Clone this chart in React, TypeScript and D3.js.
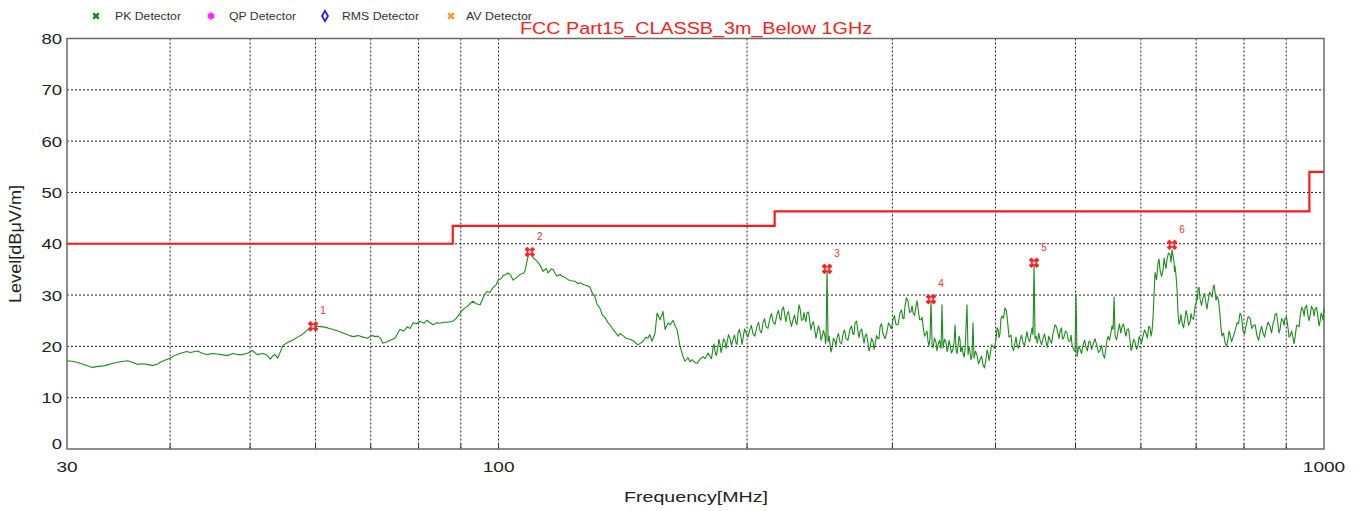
import React from "react";
import * as d3 from "d3";

// ---------- data ----------
const yTickValues = [0, 10, 20, 30, 40, 50, 60, 70, 80];
const xLabelValues = [30, 100, 1000];
const xGridValues = [40, 50, 60, 70, 80, 90, 100, 200, 300, 400, 500, 600, 700, 800, 900];

// limit line: [start frequency MHz, level dBuV/m]
const limitSteps: [number, number][] = [
  [30, 40],
  [88, 43.5],
  [216, 46.3],
  [960, 54],
  [1000, 54],
];

const markerIds = ["1", "2", "3", "4", "5", "6"];
const markerFreqs = [59.6, 109.1, 250.0, 334.1, 445.4, 654.5];
const markerLevels = [23.9, 38.4, 35.1, 29.2, 36.3, 39.8];

const legendNames = ["PK Detector", "QP Detector", "RMS Detector", "AV Detector"];
const legendColors = ["#1f8a1f", "#ff22ff", "#2222dd", "#ff9a2e"];

// PK detector trace: [frequency MHz, level dBuV/m]
const pkTrace: [number, number][] = [
  [30.0, 17.2], [30.4, 17.1], [30.85, 16.9], [31.5, 16.4], [32.2, 15.9], [32.7, 16.1], [33.2, 16.2],
  [33.6, 16.4], [34.1, 16.7], [34.8, 17.0], [35.5, 17.2], [36.0, 16.9], [36.5, 16.5], [37.0, 16.6],
  [37.5, 16.5], [38.1, 16.3], [38.6, 16.5], [38.9, 16.9], [39.4, 17.3], [40.0, 17.7], [40.5, 18.2],
  [41.1, 18.6], [41.9, 19.0], [42.3, 18.8], [42.6, 18.9], [43.2, 19.1], [43.8, 18.6], [44.3, 18.4],
  [45.0, 18.6], [45.6, 18.5], [46.2, 18.4], [46.9, 18.2], [47.7, 18.6], [48.3, 18.4], [49.0, 18.4],
  [49.7, 18.7], [50.3, 19.2], [51.0, 18.4], [51.8, 18.6], [52.4, 18.3], [52.9, 17.5], [53.3, 18.2],
  [53.6, 18.4], [54.0, 17.7], [54.8, 20.2], [55.6, 20.8], [56.4, 21.3], [57.1, 21.8], [57.8, 22.3],
  [58.8, 23.3], [59.6, 23.9], [60.4, 23.9], [61.3, 23.8], [62.1, 23.6], [63.0, 23.3], [63.9, 23.0],
  [64.8, 22.6], [65.7, 22.2], [66.6, 21.9], [67.6, 22.1], [68.5, 21.8], [69.3, 21.6], [70.3, 22.1],
  [71.0, 21.9], [71.4, 22.0], [72.0, 21.5], [72.4, 20.6], [73.3, 20.9], [73.9, 21.2],
  [74.9, 21.6], [75.9, 23.3], [76.8, 23.0], [77.5, 23.8], [78.1, 23.5], [78.8, 24.6], [79.6, 24.4],
  [80.3, 24.9], [81.2, 24.5], [81.9, 25.1], [82.6, 24.6], [83.3, 24.2], [84.2, 24.6], [84.9, 24.5],
  [85.9, 24.7], [86.6, 24.7], [87.3, 24.8], [88.0, 24.9], [88.8, 25.4], [89.3, 25.9], [90.3, 27.0],
  [91.1, 27.5], [91.6, 27.8], [92.3, 28.3], [93.1, 28.8], [93.9, 28.3], [95.0, 28.1], [96.0, 29.8],
  [96.8, 30.7], [97.6, 30.5], [98.4, 31.4], [99.3, 32.0], [99.9, 33.0], [100.7, 33.2], [101.3, 33.8],
  [102.1, 34.0], [102.7, 34.3], [103.5, 33.8], [104.1, 32.9], [105.3, 33.5], [106.1, 34.0],
  [107.0, 34.2], [107.6, 34.6], [108.6, 37.6], [109.1, 38.4], [110.1, 37.3], [111.3, 36.6],
  [112.3, 35.8], [113.2, 34.6], [114.2, 35.2], [114.8, 34.3], [115.8, 35.1], [116.4, 35.0],
  [117.1, 34.2], [117.7, 33.7], [118.7, 34.0], [119.3, 33.7], [120.4, 33.4], [121.4, 33.0],
  [122.4, 32.8], [123.8, 32.7], [124.8, 32.2], [125.5, 32.4], [126.9, 32.0], [128.0, 31.8],
  [129.1, 31.5], [129.8, 30.5], [130.9, 29.6], [131.6, 28.2], [132.7, 27.4], [133.5, 26.2],
  [134.6, 25.6], [135.7, 24.6], [136.5, 24.2], [137.6, 23.3], [138.8, 22.6], [139.6, 22.0],
  [140.3, 22.5], [141.5, 22.1], [142.7, 21.6], [144.3, 21.4], [145.9, 21.0], [147.5, 20.3],
  [148.8, 20.7], [149.6, 21.0], [150.9, 21.8], [151.7, 21.6], [152.5, 22.3], [153.4, 21.0],
  [154.7, 22.5], [155.6, 26.5], [156.9, 25.2], [158.2, 26.8], [159.1, 23.3], [160.5, 24.6],
  [161.4, 24.2], [162.7, 25.1], [163.6, 24.0], [164.5, 23.3], [165.9, 20.0], [167.3, 18.0],
  [168.2, 17.1], [169.6, 17.8], [170.6, 17.0], [171.5, 17.4], [173.0, 16.8], [173.9, 16.7],
  [175.4, 17.5], [176.8, 18.0], [177.9, 17.6], [179.4, 18.7],
  [180.4, 18.0], [181.1, 17.6], [181.9, 19.7], [182.4, 20.5], [182.9, 18.9], [183.6, 18.2],
  [184.4, 20.0], [184.9, 21.4], [185.5, 20.3], [186.0, 18.8], [186.5, 19.6], [187.3, 21.5],
  [188.1, 20.9], [188.6, 19.6], [189.1, 20.7], [189.9, 22.3], [190.7, 21.5], [191.5, 20.2],
  [192.3, 21.3], [193.1, 22.2], [194.0, 20.6], [194.5, 20.4], [195.0, 22.6], [195.8, 23.3],
  [196.7, 21.6], [197.2, 20.4], [197.8, 21.6], [198.6, 23.4], [199.4, 22.7], [200.5, 21.8],
  [201.6, 23.3], [202.4, 24.1], [203.3, 22.5], [204.4, 22.0], [205.6, 23.9], [206.5, 24.7],
  [207.4, 23.0], [208.2, 22.6], [209.1, 24.6], [210.0, 25.4], [210.9, 23.8], [212.0, 23.5],
  [213.2, 25.5], [214.1, 26.4], [215.0, 24.8], [216.2, 24.3], [217.4, 26.2], [218.3, 27.0],
  [219.2, 25.4], [219.8, 25.1], [220.5, 27.2], [221.4, 27.7], [222.3, 25.8], [222.9, 24.8],
  [223.6, 26.2], [224.5, 26.8], [225.5, 25.0], [226.4, 23.9], [227.4, 25.2], [228.3, 26.1],
  [229.3, 24.5], [229.9, 24.3], [230.6, 26.5], [231.2, 28.1], [231.9, 27.3], [232.8, 25.1],
  [233.8, 25.2], [234.4, 26.6], [235.1, 25.5], [235.7, 24.8], [236.4, 26.5], [237.4, 26.7],
  [238.4, 24.5], [239.0, 23.2], [239.7, 24.2], [240.7, 24.8], [241.7, 23.0], [242.4, 21.6],
  [243.1, 22.6], [244.1, 24.0], [245.1, 23.0], [245.8, 21.2], [246.5, 21.8], [247.5, 23.1],
  [248.6, 22.0], [248.9, 20.5], [249.3, 21.3], [250.0, 35.1], [250.7, 20.9],
  [251.4, 22.0], [252.1, 20.4], [252.8, 18.9], [253.5, 19.7], [254.5, 21.6], [255.6, 21.0],
  [256.3, 20.2], [257.1, 21.8], [258.1, 22.5], [259.2, 20.8], [260.3, 20.5], [261.5, 22.6],
  [262.5, 23.2], [263.6, 21.5], [265.0, 21.2], [266.5, 23.3], [267.6, 24.0], [268.8, 22.4],
  [269.5, 22.3], [270.3, 24.6], [271.4, 24.9], [272.6, 22.8], [273.3, 21.7], [274.1, 22.9],
  [275.3, 23.4], [276.5, 21.6], [277.2, 20.6], [278.0, 22.0], [279.1, 22.4], [280.3, 20.5],
  [281.1, 19.1], [282.0, 20.0], [283.1, 21.6], [284.3, 20.8], [285.0, 19.4], [285.8, 20.3],
  [287.0, 22.1], [288.2, 21.5], [289.0, 21.5], [289.9, 23.9], [291.1, 24.4], [292.3, 22.4],
  [293.9, 21.5], [295.5, 22.9], [296.7, 24.6], [298.0, 24.0], [299.2, 23.4], [300.5, 25.2],
  [301.7, 26.0], [303.0, 24.3], [304.7, 24.2], [306.4, 26.5], [307.7, 27.1], [309.0, 25.4],
  [309.8, 25.4], [310.7, 27.8], [312.0, 29.5], [313.4, 28.8], [314.7, 26.6], [316.0, 26.8],
  [316.9, 27.9], [317.8, 26.5], [319.1, 26.0], [320.4, 27.8], [321.3, 28.9], [322.2, 27.5],
  [323.6, 25.2], [325.0, 25.2], [325.9, 25.7], [326.8, 23.9], [328.1, 22.0], [329.5, 22.5],
  [330.4, 23.0], [331.3, 21.0], [332.2, 20.1], [333.2, 21.5], [334.1, 29.1],
  [335.1, 20.5], [336.0, 19.7], [337.4, 21.6], [338.8, 20.8], [339.7, 19.1], [340.7, 20.3],
  [342.1, 21.2], [343.6, 19.6], [344.5, 28.1], [345.5, 19.7], [347.0, 21.4], [348.4, 20.8],
  [349.4, 19.0], [350.4, 19.6], [351.3, 21.2], [352.3, 20.3], [353.8, 18.7], [355.3, 19.5],
  [356.3, 20.8], [357.3, 24.2], [358.3, 19.3], [359.3, 18.6], [360.3, 20.2], [361.3, 22.0],
  [362.3, 21.3], [362.8, 19.0], [363.3, 19.0], [364.3, 20.0], [365.3, 18.7], [366.4, 17.9],
  [367.4, 19.4], [369.4, 28.1], [370.5, 18.4], [371.5, 19.9], [372.5, 19.0], [373.5, 17.4],
  [374.6, 18.2], [375.6, 24.6], [376.7, 17.7], [378.3, 19.1], [379.9, 18.2], [381.5, 16.6],
  [383.1, 17.4], [384.7, 18.1], [386.3, 16.4], [387.9, 15.8], [389.5, 17.5], [390.6, 19.3],
  [391.7, 18.7], [392.8, 17.2], [393.9, 18.2], [395.5, 20.3], [397.2, 20.0], [398.9, 19.6],
  [400.6, 21.5], [401.7, 23.6], [402.8, 23.3], [403.9, 21.7], [405.0, 22.5], [406.1, 25.4],
  [407.3, 25.9], [409.0, 25.5], [410.7, 27.5], [412.4, 26.9], [414.2, 23.9], [415.3, 21.8],
  [416.5, 22.0], [417.7, 22.2], [418.9, 20.0], [420.6, 19.2], [422.4, 20.8], [423.5, 21.8],
  [424.7, 20.3], [426.5, 19.6], [428.3, 21.2], [430.1, 22.2], [431.9, 20.7], [433.7, 20.1],
  [435.5, 21.8], [436.7, 22.9], [438.0, 21.6], [439.8, 20.9], [441.7, 22.5], [442.9, 23.6],
  [444.1, 22.3], [445.4, 36.3],
  [446.6, 21.5], [447.9, 22.0], [449.5, 20.6], [451.2, 22.6], [452.9, 21.2], [454.8, 20.3],
  [456.7, 21.6], [458.6, 22.4], [460.5, 20.9], [462.2, 19.8], [464.0, 22.0], [465.7, 21.3],
  [467.6, 20.6], [469.6, 22.5], [470.9, 23.3], [472.2, 24.2], [474.2, 23.8], [476.2, 22.5],
  [477.5, 21.5], [478.9, 22.9], [480.6, 23.6], [482.4, 21.4], [484.2, 21.8], [486.2, 23.0],
  [488.3, 22.6], [490.3, 21.0], [492.4, 21.0], [493.8, 22.2], [495.2, 20.3], [497.2, 19.4],
  [499.3, 19.0], [500.7, 30.1], [502.1, 18.0], [504.2, 19.9], [506.3, 19.5], [508.4, 18.6],
  [510.6, 20.3], [512.8, 21.2], [514.9, 19.8], [516.8, 19.1], [518.8, 20.9], [520.7, 21.0],
  [522.9, 19.4], [525.1, 20.4], [527.9, 21.5], [530.9, 20.0], [533.1, 18.8], [535.4, 19.2],
  [537.6, 20.2], [539.9, 18.4], [542.1, 17.7], [544.4, 19.8], [546.0, 21.2], [547.5, 22.0],
  [549.8, 21.2], [552.1, 22.8], [553.6, 24.0], [555.2, 23.3], [556.8, 29.6], [558.3, 22.0],
  [560.7, 21.3], [563.1, 23.0], [565.2, 24.4], [567.3, 22.6], [569.4, 23.9], [571.7, 24.4],
  [574.1, 22.6], [575.7, 22.0], [577.3, 23.3], [579.7, 23.4], [582.2, 21.0], [583.8, 19.2],
  [585.4, 19.7], [587.8, 21.4], [590.3, 20.8], [592.8, 19.4], [595.3, 20.3], [597.0, 21.9],
  [598.6, 21.5], [601.1, 20.6], [603.6, 22.0], [606.1, 23.2], [608.7, 22.5], [611.0, 21.6],
  [613.3, 23.9], [615.6, 23.6], [617.3, 22.0], [619.0, 23.0], [620.8, 25.9],
  [624.2, 34.4], [626.8, 33.0], [629.5, 36.3], [631.2, 37.0], [633.0, 34.8], [635.7, 33.6],
  [638.4, 35.0], [640.1, 37.2], [641.8, 36.0], [643.6, 35.2], [645.4, 37.0], [648.1, 38.2],
  [650.8, 37.9], [652.6, 36.4], [654.5, 38.8], [656.3, 37.6], [658.1, 36.5], [659.0, 34.6],
  [660.0, 35.6], [661.8, 33.8], [663.7, 31.0], [665.5, 26.5], [667.3, 24.3], [669.2, 25.0],
  [671.1, 26.2], [673.0, 24.6], [675.8, 23.6], [678.6, 25.5], [680.5, 27.0], [682.5, 26.2],
  [685.3, 24.1], [688.2, 24.8], [690.1, 26.4], [692.1, 25.5], [695.0, 25.3], [697.9, 27.8],
  [699.8, 28.3], [701.8, 30.0], [702.8, 29.2], [703.8, 31.4], [705.7, 31.5], [707.7, 29.2],
  [710.6, 28.0], [713.6, 29.5], [716.6, 30.3], [719.6, 28.2], [721.6, 27.3], [723.7, 28.8],
  [726.7, 30.6], [729.8, 30.0], [731.8, 29.6], [733.9, 31.4], [735.9, 32.0], [738.0, 30.5],
  [740.0, 29.0], [742.1, 29.8], [745.2, 29.0], [748.3, 26.0], [750.4, 23.3], [752.5, 22.0],
  [755.6, 22.6], [758.8, 20.7], [762.0, 20.0], [765.2, 21.5], [767.3, 23.0], [769.5, 22.3],
  [772.7, 20.9], [776.0, 21.8], [780.3, 23.0], [784.6, 24.6], [787.9, 24.4], [791.2, 26.5],
  [794.5, 25.8], [797.8, 23.0], [801.2, 22.4], [804.6, 24.0], [809.2, 25.8], [813.8, 25.5],
  [817.2, 23.5], [820.7, 24.0], [825.2, 24.2], [829.7, 22.0], [833.2, 21.2], [836.7, 22.8],
  [840.2, 23.9], [843.7, 22.6], [847.2, 21.8], [850.8, 23.3], [855.5, 24.7], [860.3, 23.9],
  [864.0, 22.6], [867.6, 24.5], [870.0, 25.0], [872.4, 26.2], [876.0, 26.4], [879.7, 24.2],
  [882.1, 22.6], [884.6, 23.3], [888.3, 25.4], [892.1, 25.0], [894.6, 24.1], [897.1, 25.5],
  [900.8, 25.7], [904.6, 23.5], [907.1, 21.8], [909.7, 22.0], [913.5, 23.0], [917.4, 21.6],
  [919.9, 20.5], [922.5, 21.8], [926.3, 24.1], [930.2, 24.0], [932.9, 23.8], [935.7, 25.9],
  [939.6, 27.6], [943.6, 27.0], [946.0, 25.9], [948.5, 27.5], [952.5, 28.0], [956.5, 26.0],
  [959.1, 25.0], [961.8, 25.9], [965.8, 27.8], [969.9, 27.2], [972.6, 25.9], [975.3, 27.2],
  [979.4, 27.6], [983.6, 25.5], [986.3, 24.0], [989.0, 24.8], [991.8, 26.5], [994.6, 26.0],
  [997.3, 25.1], [1000, 27.5],
];

// ---------- layout ----------
const W = 1365;
const H = 511;
const left = 67;
const right = 1324;
const top = 38.5;
const bottom = 449;
const FONT = "'Liberation Sans', Arial, sans-serif";

const x = d3.scaleLog().domain([30, 1000]).range([left, right]);
const y = d3.scaleLinear().domain([0, 80]).range([bottom, top]);

function Txt(props: any) {
  const { children, ...rest } = props;
  return (
    <text fontFamily={FONT} lengthAdjust="spacingAndGlyphs" {...rest}>
      {children}
    </text>
  );
}

export default function App() {
  const traceLine = d3
    .line<[number, number]>()
    .x((d) => x(d[0]))
    .y((d) => y(d[1]));
  const limitLine = d3
    .line<[number, number]>()
    .x((d) => x(d[0]))
    .y((d) => y(d[1]))
    .curve(d3.curveStepAfter);

  const crossPath = d3.symbol().type(d3.symbolCross).size(70)() as string;
  const smallCross = d3.symbol().type(d3.symbolCross).size(34)() as string;
  const starPath = d3.symbol().type(d3.symbolAsterisk).size(40)() as string;
  const diamondPath = d3.symbol().type(d3.symbolDiamond).size(30)() as string;

  const legendIconX = [96, 211, 325, 451];
  const legendTextX = [115, 229, 342, 466];
  const legendTextW = [66, 67, 77, 66];

  return (
    <svg
      width={W}
      height={H}
      style={{ position: "absolute", left: 0, top: 0, background: "#fff" }}
    >
      <rect x={0} y={0} width={W} height={H} fill="#fff" />

      {/* legend */}
      {legendNames.map((name, i) => (
        <g key={name}>
          {i === 0 || i === 3 ? (
            <path
              d={smallCross}
              transform={`translate(${legendIconX[i]},16) rotate(45)`}
              fill={legendColors[i]}
            />
          ) : i === 1 ? (
            <g transform={`translate(${legendIconX[i]},16)`}>
              <path d={starPath} fill="none" stroke={legendColors[i]} strokeWidth={2.2} />
              <circle r={2.5} fill={legendColors[i]} />
            </g>
          ) : (
            <path
              d={diamondPath}
              transform={`translate(${legendIconX[i]},16)`}
              fill="none"
              stroke={legendColors[i]}
              strokeWidth={1.8}
            />
          )}
          <Txt
            x={legendTextX[i]}
            y={20}
            fontSize={11}
            fill="#333"
            textLength={legendTextW[i]}
          >
            {name}
          </Txt>
        </g>
      ))}

      {/* title */}
      <Txt x={520} y={34} fontSize={16} fill="#ff2020" textLength={352}>
        FCC Part15_CLASSB_3m_Below 1GHz
      </Txt>

      {/* grid */}
      {yTickValues
        .filter((v) => v > 0 && v < 80)
        .map((v) => (
          <line
            key={"gy" + v}
            x1={left}
            x2={right}
            y1={y(v)}
            y2={y(v)}
            stroke="#222"
            strokeWidth={1}
            strokeDasharray="2,2"
          />
        ))}
      {xGridValues.map((v) => (
        <line
          key={"gx" + v}
          x1={x(v)}
          x2={x(v)}
          y1={top}
          y2={bottom}
          stroke="#222"
          strokeWidth={1}
          strokeDasharray="2,2"
        />
      ))}
      {xGridValues.map((v) => (
        <line
          key={"tk" + v}
          x1={x(v)}
          x2={x(v)}
          y1={bottom}
          y2={bottom - 5}
          stroke="#333"
          strokeWidth={1}
        />
      ))}

      {/* frame */}
      <rect
        x={left}
        y={top}
        width={right - left}
        height={bottom - top}
        fill="none"
        stroke="#6a6a6a"
        strokeWidth={1.5}
      />

      {/* y tick labels */}
      {yTickValues.map((v) => (
        <Txt
          key={"yl" + v}
          x={62}
          y={v === 0 ? y(v) : y(v) + 5.5}
          fontSize={15}
          fill="#222"
          textAnchor="end"
          textLength={String(v).length * 10.3}
        >
          {String(v)}
        </Txt>
      ))}

      {/* x tick labels */}
      {xLabelValues.map((v) => (
        <Txt
          key={"xl" + v}
          x={x(v)}
          y={472}
          fontSize={15}
          fill="#222"
          textAnchor="middle"
          textLength={String(v).length * 10.6}
        >
          {String(v)}
        </Txt>
      ))}

      {/* axis titles */}
      <Txt x={696} y={502} fontSize={15} fill="#222" textAnchor="middle" textLength={144}>
        Frequency[MHz]
      </Txt>
      <Txt
        x={0}
        y={0}
        fontSize={16}
        fill="#222"
        textAnchor="middle"
        textLength={118}
        transform="translate(21,244) rotate(-90)"
      >
        Level[dBμV/m]
      </Txt>

      {/* limit */}
      <path
        d={limitLine(limitSteps) as string}
        fill="none"
        stroke="#ff1a1a"
        strokeWidth={2.2}
      />

      {/* trace */}
      <path
        d={traceLine(pkTrace) as string}
        fill="none"
        stroke="#1f8a1f"
        strokeWidth={1.1}
        strokeLinejoin="round"
      />

      {/* markers */}
      {markerIds.map((id, i) => {
        const mx = x(markerFreqs[i]);
        const my = y(markerLevels[i]);
        return (
          <g key={"m" + id}>
            <path d={crossPath} transform={`translate(${mx},${my}) rotate(45)`} fill="#ff2222" />
            <circle cx={mx} cy={my} r={1.6} fill="#ffd6d6" />
            <Txt x={mx + 10} y={my - 12} fontSize={10} fill="#ff3030" textAnchor="middle">
              {id}
            </Txt>
          </g>
        );
      })}
    </svg>
  );
}
